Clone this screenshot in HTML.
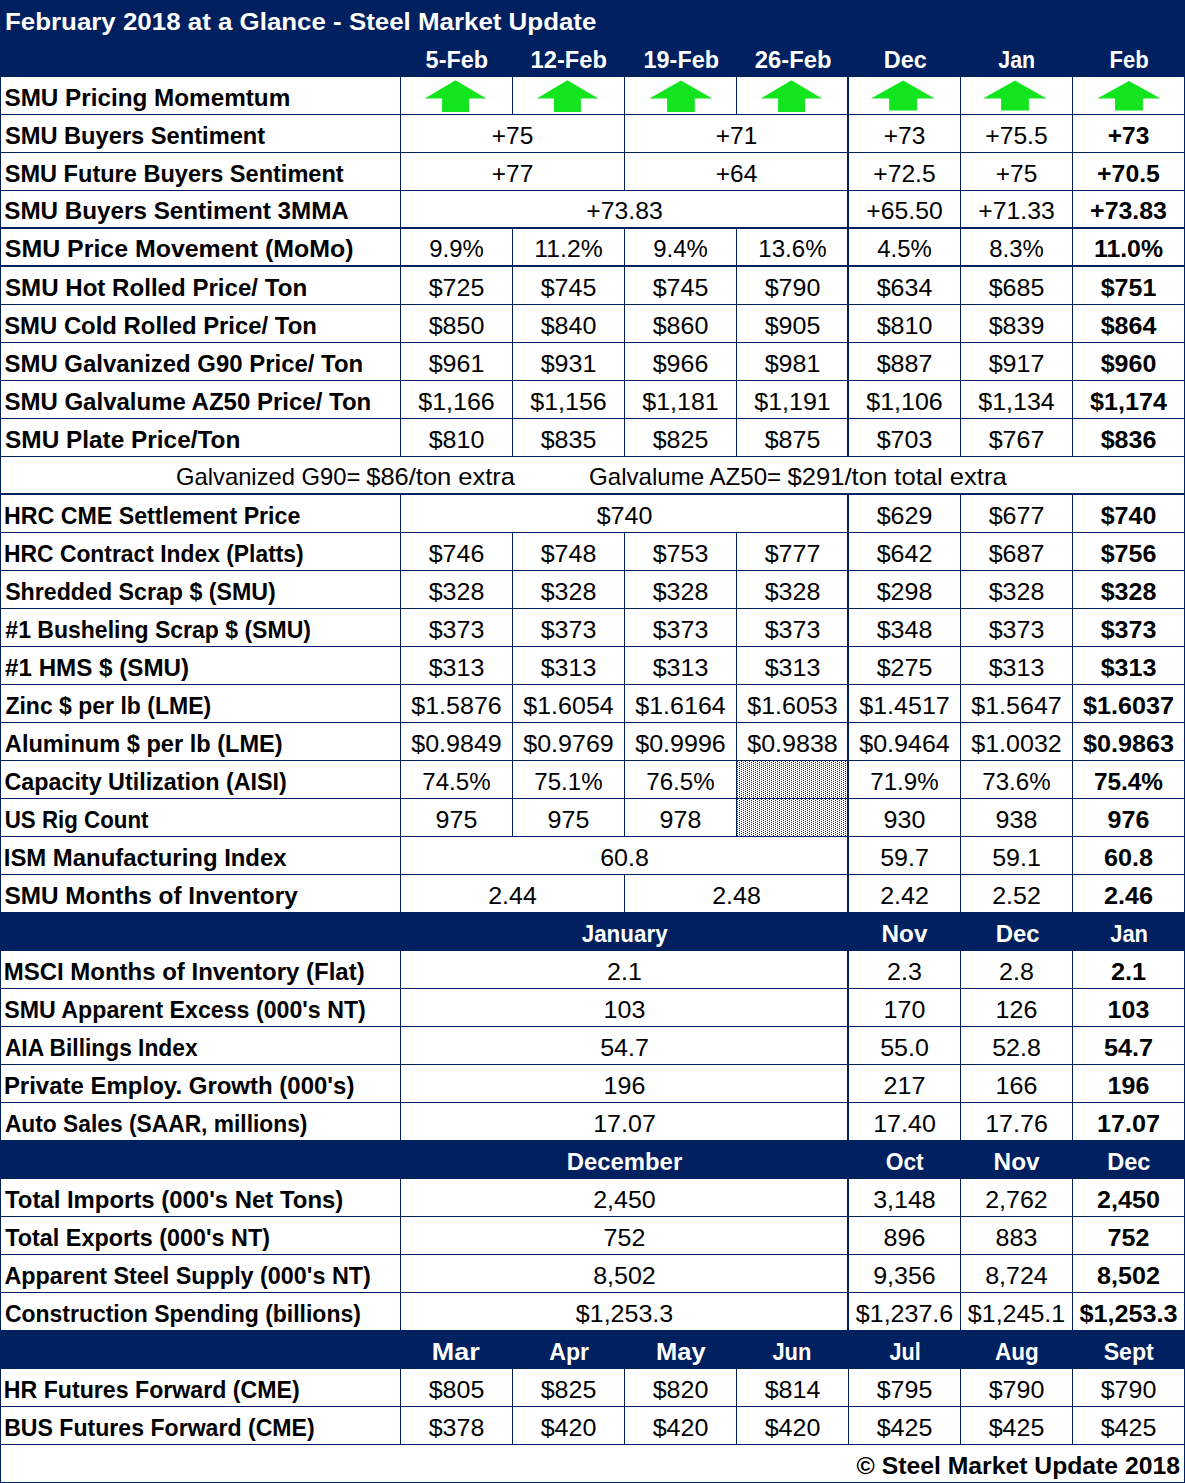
<!DOCTYPE html>
<html><head><meta charset="utf-8"><style>
html,body{margin:0;padding:0;background:#fff;}
body{width:1185px;height:1483px;overflow:hidden;}
svg{display:block;font-family:"Liberation Sans", sans-serif;font-size:24px;}
</style></head><body>
<svg width="1185" height="1483" viewBox="0 0 1185 1483">
<defs><pattern id="dots" x="0" y="0" width="4" height="2" patternUnits="userSpaceOnUse">
<rect x="3" y="0" width="1" height="1" fill="#002060"/><rect x="1" y="1" width="1" height="1" fill="#002060"/></pattern></defs>
<rect x="0" y="0" width="1185" height="1483" fill="#ffffff"/>
<rect x="0" y="0" width="1185" height="77" fill="#002060"/>
<rect x="0" y="912" width="1185" height="39" fill="#002060"/>
<rect x="0" y="1330" width="1185" height="39" fill="#002060"/>
<rect x="0" y="1140" width="1185" height="39" fill="#002060"/>
<rect x="737" y="761" width="110" height="75" fill="url(#dots)"/>
<rect x="0" y="114" width="1185" height="1" fill="#002060"/>
<rect x="0" y="152" width="1185" height="1" fill="#002060"/>
<rect x="0" y="190" width="1185" height="1" fill="#002060"/>
<rect x="0" y="228" width="1185" height="1" fill="#002060"/>
<rect x="0" y="266" width="1185" height="1" fill="#002060"/>
<rect x="0" y="304" width="1185" height="1" fill="#002060"/>
<rect x="0" y="342" width="1185" height="1" fill="#002060"/>
<rect x="0" y="380" width="1185" height="1" fill="#002060"/>
<rect x="0" y="418" width="1185" height="1" fill="#002060"/>
<rect x="0" y="456" width="1185" height="1" fill="#002060"/>
<rect x="0" y="494" width="1185" height="1" fill="#002060"/>
<rect x="0" y="532" width="1185" height="1" fill="#002060"/>
<rect x="0" y="570" width="1185" height="1" fill="#002060"/>
<rect x="0" y="608" width="1185" height="1" fill="#002060"/>
<rect x="0" y="646" width="1185" height="1" fill="#002060"/>
<rect x="0" y="684" width="1185" height="1" fill="#002060"/>
<rect x="0" y="722" width="1185" height="1" fill="#002060"/>
<rect x="0" y="760" width="1185" height="1" fill="#002060"/>
<rect x="0" y="798" width="1185" height="1" fill="#002060"/>
<rect x="0" y="836" width="1185" height="1" fill="#002060"/>
<rect x="0" y="874" width="1185" height="1" fill="#002060"/>
<rect x="0" y="912" width="1185" height="1" fill="#002060"/>
<rect x="0" y="950" width="1185" height="1" fill="#002060"/>
<rect x="0" y="988" width="1185" height="1" fill="#002060"/>
<rect x="0" y="1026" width="1185" height="1" fill="#002060"/>
<rect x="0" y="1064" width="1185" height="1" fill="#002060"/>
<rect x="0" y="1102" width="1185" height="1" fill="#002060"/>
<rect x="0" y="1140" width="1185" height="1" fill="#002060"/>
<rect x="0" y="1178" width="1185" height="1" fill="#002060"/>
<rect x="0" y="1216" width="1185" height="1" fill="#002060"/>
<rect x="0" y="1254" width="1185" height="1" fill="#002060"/>
<rect x="0" y="1292" width="1185" height="1" fill="#002060"/>
<rect x="0" y="1330" width="1185" height="1" fill="#002060"/>
<rect x="0" y="1368" width="1185" height="1" fill="#002060"/>
<rect x="0" y="1406" width="1185" height="1" fill="#002060"/>
<rect x="0" y="1444" width="1185" height="1" fill="#002060"/>
<rect x="0" y="227" width="1185" height="2" fill="#002060"/>
<rect x="0" y="265" width="1185" height="2" fill="#002060"/>
<rect x="0" y="493" width="1185" height="2" fill="#002060"/>
<rect x="0" y="76" width="1" height="1407" fill="#002060"/>
<rect x="1184" y="76" width="1" height="1407" fill="#002060"/>
<rect x="400" y="76" width="1" height="38" fill="#002060"/>
<rect x="512" y="76" width="1" height="38" fill="#002060"/>
<rect x="624" y="76" width="1" height="38" fill="#002060"/>
<rect x="736" y="76" width="1" height="38" fill="#002060"/>
<rect x="847" y="76" width="2" height="39" fill="#002060"/>
<rect x="960" y="76" width="1" height="38" fill="#002060"/>
<rect x="1072" y="76" width="1" height="38" fill="#002060"/>
<rect x="400" y="114" width="1" height="38" fill="#002060"/>
<rect x="624" y="114" width="1" height="38" fill="#002060"/>
<rect x="847" y="114" width="2" height="39" fill="#002060"/>
<rect x="960" y="114" width="1" height="38" fill="#002060"/>
<rect x="1072" y="114" width="1" height="38" fill="#002060"/>
<rect x="400" y="152" width="1" height="38" fill="#002060"/>
<rect x="624" y="152" width="1" height="38" fill="#002060"/>
<rect x="847" y="152" width="2" height="39" fill="#002060"/>
<rect x="960" y="152" width="1" height="38" fill="#002060"/>
<rect x="1072" y="152" width="1" height="38" fill="#002060"/>
<rect x="400" y="190" width="1" height="38" fill="#002060"/>
<rect x="847" y="190" width="2" height="39" fill="#002060"/>
<rect x="960" y="190" width="1" height="38" fill="#002060"/>
<rect x="1072" y="190" width="1" height="38" fill="#002060"/>
<rect x="400" y="228" width="1" height="38" fill="#002060"/>
<rect x="512" y="228" width="1" height="38" fill="#002060"/>
<rect x="624" y="228" width="1" height="38" fill="#002060"/>
<rect x="736" y="228" width="1" height="38" fill="#002060"/>
<rect x="847" y="228" width="2" height="39" fill="#002060"/>
<rect x="960" y="228" width="1" height="38" fill="#002060"/>
<rect x="1072" y="228" width="1" height="38" fill="#002060"/>
<rect x="400" y="266" width="1" height="38" fill="#002060"/>
<rect x="512" y="266" width="1" height="38" fill="#002060"/>
<rect x="624" y="266" width="1" height="38" fill="#002060"/>
<rect x="736" y="266" width="1" height="38" fill="#002060"/>
<rect x="847" y="266" width="2" height="39" fill="#002060"/>
<rect x="960" y="266" width="1" height="38" fill="#002060"/>
<rect x="1072" y="266" width="1" height="38" fill="#002060"/>
<rect x="400" y="304" width="1" height="38" fill="#002060"/>
<rect x="512" y="304" width="1" height="38" fill="#002060"/>
<rect x="624" y="304" width="1" height="38" fill="#002060"/>
<rect x="736" y="304" width="1" height="38" fill="#002060"/>
<rect x="847" y="304" width="2" height="39" fill="#002060"/>
<rect x="960" y="304" width="1" height="38" fill="#002060"/>
<rect x="1072" y="304" width="1" height="38" fill="#002060"/>
<rect x="400" y="342" width="1" height="38" fill="#002060"/>
<rect x="512" y="342" width="1" height="38" fill="#002060"/>
<rect x="624" y="342" width="1" height="38" fill="#002060"/>
<rect x="736" y="342" width="1" height="38" fill="#002060"/>
<rect x="847" y="342" width="2" height="39" fill="#002060"/>
<rect x="960" y="342" width="1" height="38" fill="#002060"/>
<rect x="1072" y="342" width="1" height="38" fill="#002060"/>
<rect x="400" y="380" width="1" height="38" fill="#002060"/>
<rect x="512" y="380" width="1" height="38" fill="#002060"/>
<rect x="624" y="380" width="1" height="38" fill="#002060"/>
<rect x="736" y="380" width="1" height="38" fill="#002060"/>
<rect x="847" y="380" width="2" height="39" fill="#002060"/>
<rect x="960" y="380" width="1" height="38" fill="#002060"/>
<rect x="1072" y="380" width="1" height="38" fill="#002060"/>
<rect x="400" y="418" width="1" height="38" fill="#002060"/>
<rect x="512" y="418" width="1" height="38" fill="#002060"/>
<rect x="624" y="418" width="1" height="38" fill="#002060"/>
<rect x="736" y="418" width="1" height="38" fill="#002060"/>
<rect x="847" y="418" width="2" height="39" fill="#002060"/>
<rect x="960" y="418" width="1" height="38" fill="#002060"/>
<rect x="1072" y="418" width="1" height="38" fill="#002060"/>
<rect x="400" y="494" width="1" height="38" fill="#002060"/>
<rect x="847" y="494" width="2" height="39" fill="#002060"/>
<rect x="960" y="494" width="1" height="38" fill="#002060"/>
<rect x="1072" y="494" width="1" height="38" fill="#002060"/>
<rect x="400" y="532" width="1" height="38" fill="#002060"/>
<rect x="512" y="532" width="1" height="38" fill="#002060"/>
<rect x="624" y="532" width="1" height="38" fill="#002060"/>
<rect x="736" y="532" width="1" height="38" fill="#002060"/>
<rect x="847" y="532" width="2" height="39" fill="#002060"/>
<rect x="960" y="532" width="1" height="38" fill="#002060"/>
<rect x="1072" y="532" width="1" height="38" fill="#002060"/>
<rect x="400" y="570" width="1" height="38" fill="#002060"/>
<rect x="512" y="570" width="1" height="38" fill="#002060"/>
<rect x="624" y="570" width="1" height="38" fill="#002060"/>
<rect x="736" y="570" width="1" height="38" fill="#002060"/>
<rect x="847" y="570" width="2" height="39" fill="#002060"/>
<rect x="960" y="570" width="1" height="38" fill="#002060"/>
<rect x="1072" y="570" width="1" height="38" fill="#002060"/>
<rect x="400" y="608" width="1" height="38" fill="#002060"/>
<rect x="512" y="608" width="1" height="38" fill="#002060"/>
<rect x="624" y="608" width="1" height="38" fill="#002060"/>
<rect x="736" y="608" width="1" height="38" fill="#002060"/>
<rect x="847" y="608" width="2" height="39" fill="#002060"/>
<rect x="960" y="608" width="1" height="38" fill="#002060"/>
<rect x="1072" y="608" width="1" height="38" fill="#002060"/>
<rect x="400" y="646" width="1" height="38" fill="#002060"/>
<rect x="512" y="646" width="1" height="38" fill="#002060"/>
<rect x="624" y="646" width="1" height="38" fill="#002060"/>
<rect x="736" y="646" width="1" height="38" fill="#002060"/>
<rect x="847" y="646" width="2" height="39" fill="#002060"/>
<rect x="960" y="646" width="1" height="38" fill="#002060"/>
<rect x="1072" y="646" width="1" height="38" fill="#002060"/>
<rect x="400" y="684" width="1" height="38" fill="#002060"/>
<rect x="512" y="684" width="1" height="38" fill="#002060"/>
<rect x="624" y="684" width="1" height="38" fill="#002060"/>
<rect x="736" y="684" width="1" height="38" fill="#002060"/>
<rect x="847" y="684" width="2" height="39" fill="#002060"/>
<rect x="960" y="684" width="1" height="38" fill="#002060"/>
<rect x="1072" y="684" width="1" height="38" fill="#002060"/>
<rect x="400" y="722" width="1" height="38" fill="#002060"/>
<rect x="512" y="722" width="1" height="38" fill="#002060"/>
<rect x="624" y="722" width="1" height="38" fill="#002060"/>
<rect x="736" y="722" width="1" height="38" fill="#002060"/>
<rect x="847" y="722" width="2" height="39" fill="#002060"/>
<rect x="960" y="722" width="1" height="38" fill="#002060"/>
<rect x="1072" y="722" width="1" height="38" fill="#002060"/>
<rect x="400" y="760" width="1" height="38" fill="#002060"/>
<rect x="512" y="760" width="1" height="38" fill="#002060"/>
<rect x="624" y="760" width="1" height="38" fill="#002060"/>
<rect x="736" y="760" width="1" height="38" fill="#002060"/>
<rect x="847" y="760" width="2" height="39" fill="#002060"/>
<rect x="960" y="760" width="1" height="38" fill="#002060"/>
<rect x="1072" y="760" width="1" height="38" fill="#002060"/>
<rect x="400" y="798" width="1" height="38" fill="#002060"/>
<rect x="512" y="798" width="1" height="38" fill="#002060"/>
<rect x="624" y="798" width="1" height="38" fill="#002060"/>
<rect x="736" y="798" width="1" height="38" fill="#002060"/>
<rect x="847" y="798" width="2" height="39" fill="#002060"/>
<rect x="960" y="798" width="1" height="38" fill="#002060"/>
<rect x="1072" y="798" width="1" height="38" fill="#002060"/>
<rect x="400" y="836" width="1" height="38" fill="#002060"/>
<rect x="847" y="836" width="2" height="39" fill="#002060"/>
<rect x="960" y="836" width="1" height="38" fill="#002060"/>
<rect x="1072" y="836" width="1" height="38" fill="#002060"/>
<rect x="400" y="874" width="1" height="38" fill="#002060"/>
<rect x="624" y="874" width="1" height="38" fill="#002060"/>
<rect x="847" y="874" width="2" height="39" fill="#002060"/>
<rect x="960" y="874" width="1" height="38" fill="#002060"/>
<rect x="1072" y="874" width="1" height="38" fill="#002060"/>
<rect x="400" y="950" width="1" height="38" fill="#002060"/>
<rect x="847" y="950" width="2" height="39" fill="#002060"/>
<rect x="960" y="950" width="1" height="38" fill="#002060"/>
<rect x="1072" y="950" width="1" height="38" fill="#002060"/>
<rect x="400" y="988" width="1" height="38" fill="#002060"/>
<rect x="847" y="988" width="2" height="39" fill="#002060"/>
<rect x="960" y="988" width="1" height="38" fill="#002060"/>
<rect x="1072" y="988" width="1" height="38" fill="#002060"/>
<rect x="400" y="1026" width="1" height="38" fill="#002060"/>
<rect x="847" y="1026" width="2" height="39" fill="#002060"/>
<rect x="960" y="1026" width="1" height="38" fill="#002060"/>
<rect x="1072" y="1026" width="1" height="38" fill="#002060"/>
<rect x="400" y="1064" width="1" height="38" fill="#002060"/>
<rect x="847" y="1064" width="2" height="39" fill="#002060"/>
<rect x="960" y="1064" width="1" height="38" fill="#002060"/>
<rect x="1072" y="1064" width="1" height="38" fill="#002060"/>
<rect x="400" y="1102" width="1" height="38" fill="#002060"/>
<rect x="847" y="1102" width="2" height="39" fill="#002060"/>
<rect x="960" y="1102" width="1" height="38" fill="#002060"/>
<rect x="1072" y="1102" width="1" height="38" fill="#002060"/>
<rect x="400" y="1178" width="1" height="38" fill="#002060"/>
<rect x="847" y="1178" width="2" height="39" fill="#002060"/>
<rect x="960" y="1178" width="1" height="38" fill="#002060"/>
<rect x="1072" y="1178" width="1" height="38" fill="#002060"/>
<rect x="400" y="1216" width="1" height="38" fill="#002060"/>
<rect x="847" y="1216" width="2" height="39" fill="#002060"/>
<rect x="960" y="1216" width="1" height="38" fill="#002060"/>
<rect x="1072" y="1216" width="1" height="38" fill="#002060"/>
<rect x="400" y="1254" width="1" height="38" fill="#002060"/>
<rect x="847" y="1254" width="2" height="39" fill="#002060"/>
<rect x="960" y="1254" width="1" height="38" fill="#002060"/>
<rect x="1072" y="1254" width="1" height="38" fill="#002060"/>
<rect x="400" y="1292" width="1" height="38" fill="#002060"/>
<rect x="847" y="1292" width="2" height="39" fill="#002060"/>
<rect x="960" y="1292" width="1" height="38" fill="#002060"/>
<rect x="1072" y="1292" width="1" height="38" fill="#002060"/>
<rect x="400" y="1368" width="1" height="38" fill="#002060"/>
<rect x="512" y="1368" width="1" height="38" fill="#002060"/>
<rect x="624" y="1368" width="1" height="38" fill="#002060"/>
<rect x="736" y="1368" width="1" height="38" fill="#002060"/>
<rect x="848" y="1368" width="1" height="38" fill="#002060"/>
<rect x="960" y="1368" width="1" height="38" fill="#002060"/>
<rect x="1072" y="1368" width="1" height="38" fill="#002060"/>
<rect x="400" y="1406" width="1" height="38" fill="#002060"/>
<rect x="512" y="1406" width="1" height="38" fill="#002060"/>
<rect x="624" y="1406" width="1" height="38" fill="#002060"/>
<rect x="736" y="1406" width="1" height="38" fill="#002060"/>
<rect x="848" y="1406" width="1" height="38" fill="#002060"/>
<rect x="960" y="1406" width="1" height="38" fill="#002060"/>
<rect x="1072" y="1406" width="1" height="38" fill="#002060"/>
<rect x="0" y="1482" width="1185" height="1" fill="#002060"/>
<text id="title" x="4.98" y="30" font-weight="bold" textLength="591.41" lengthAdjust="spacingAndGlyphs" fill="#fff">February 2018 at a Glance - Steel Market Update</text>
<text id="H1_0" x="425.62" y="68" font-weight="bold" textLength="62.48" lengthAdjust="spacingAndGlyphs" fill="#fff">5-Feb</text>
<text id="H1_1" x="530.60" y="68" font-weight="bold" textLength="76.35" lengthAdjust="spacingAndGlyphs" fill="#fff">12-Feb</text>
<text id="H1_2" x="643.56" y="68" font-weight="bold" textLength="75.52" lengthAdjust="spacingAndGlyphs" fill="#fff">19-Feb</text>
<text id="H1_3" x="754.83" y="68" font-weight="bold" textLength="76.76" lengthAdjust="spacingAndGlyphs" fill="#fff">26-Feb</text>
<text id="H1_4" x="883.76" y="68" font-weight="bold" textLength="43.01" lengthAdjust="spacingAndGlyphs" fill="#fff">Dec</text>
<text id="H1_5" x="998.35" y="68" font-weight="bold" textLength="36.83" lengthAdjust="spacingAndGlyphs" fill="#fff">Jan</text>
<text id="H1_6" x="1109.52" y="68" font-weight="bold" textLength="39.27" lengthAdjust="spacingAndGlyphs" fill="#fff">Feb</text>
<polygon points="455.5,80.2 486.3,98.6 469.0,98.6 469.0,111.9 442.1,111.9 442.1,98.6 424.7,98.6" fill="#12e51e"/>
<polygon points="567.4,80.2 598.3,98.6 580.9,98.6 580.9,111.9 554.0,111.9 554.0,98.6 536.7,98.6" fill="#12e51e"/>
<polygon points="681.0,80.6 712.3,98.6 694.8,98.6 694.8,111.9 667.1,111.9 667.1,98.6 649.4,98.6" fill="#12e51e"/>
<polygon points="791.5,80.2 822.0,98.6 805.0,98.6 805.0,111.9 778.1,111.9 778.1,98.6 760.7,98.6" fill="#12e51e"/>
<polygon points="903.1,80.6 934.7,98.4 917.0,98.4 917.0,110.6 889.2,110.6 889.2,98.4 871.0,98.4" fill="#12e51e"/>
<polygon points="1015.0,80.6 1046.7,98.4 1028.9,98.4 1028.9,110.6 1001.1,110.6 1001.1,98.4 983.1,98.4" fill="#12e51e"/>
<polygon points="1128.9,80.9 1160.6,98.4 1142.9,98.4 1142.9,110.6 1115.0,110.6 1115.0,98.4 1097.3,98.4" fill="#12e51e"/>
<text id="L2" x="4.47" y="106" font-weight="bold" textLength="285.74" lengthAdjust="spacingAndGlyphs" fill="#000">SMU Pricing Momemtum</text>
<text id="L3" x="4.92" y="144" font-weight="bold" textLength="260.26" lengthAdjust="spacingAndGlyphs" fill="#000">SMU Buyers Sentiment</text>
<text x="512.50" y="144" text-anchor="middle" textLength="41.53" lengthAdjust="spacingAndGlyphs" fill="#000">+75</text>
<text x="736.50" y="144" text-anchor="middle" textLength="41.53" lengthAdjust="spacingAndGlyphs" fill="#000">+71</text>
<text x="904.50" y="144" text-anchor="middle" textLength="41.53" lengthAdjust="spacingAndGlyphs" fill="#000">+73</text>
<text x="1016.50" y="144" text-anchor="middle" textLength="62.38" lengthAdjust="spacingAndGlyphs" fill="#000">+75.5</text>
<text x="1128.50" y="144" text-anchor="middle" font-weight="bold" textLength="41.53" lengthAdjust="spacingAndGlyphs" fill="#000">+73</text>
<text id="L4" x="4.72" y="182" font-weight="bold" textLength="338.96" lengthAdjust="spacingAndGlyphs" fill="#000">SMU Future Buyers Sentiment</text>
<text x="512.50" y="182" text-anchor="middle" textLength="41.53" lengthAdjust="spacingAndGlyphs" fill="#000">+77</text>
<text x="736.50" y="182" text-anchor="middle" textLength="41.53" lengthAdjust="spacingAndGlyphs" fill="#000">+64</text>
<text x="904.50" y="182" text-anchor="middle" textLength="62.38" lengthAdjust="spacingAndGlyphs" fill="#000">+72.5</text>
<text x="1016.50" y="182" text-anchor="middle" textLength="41.53" lengthAdjust="spacingAndGlyphs" fill="#000">+75</text>
<text x="1128.50" y="182" text-anchor="middle" font-weight="bold" textLength="62.80" lengthAdjust="spacingAndGlyphs" fill="#000">+70.5</text>
<text id="L5" x="4.22" y="219" font-weight="bold" textLength="344.62" lengthAdjust="spacingAndGlyphs" fill="#000">SMU Buyers Sentiment 3MMA</text>
<text x="624.50" y="219" text-anchor="middle" textLength="76.31" lengthAdjust="spacingAndGlyphs" fill="#000">+73.83</text>
<text x="904.50" y="219" text-anchor="middle" textLength="76.31" lengthAdjust="spacingAndGlyphs" fill="#000">+65.50</text>
<text x="1016.50" y="219" text-anchor="middle" textLength="76.31" lengthAdjust="spacingAndGlyphs" fill="#000">+71.33</text>
<text x="1128.50" y="219" text-anchor="middle" font-weight="bold" textLength="76.72" lengthAdjust="spacingAndGlyphs" fill="#000">+73.83</text>
<text id="L6" x="4.82" y="257" font-weight="bold" textLength="348.71" lengthAdjust="spacingAndGlyphs" fill="#000">SMU Price Movement (MoMo)</text>
<text x="456.50" y="257" text-anchor="middle" textLength="54.42" lengthAdjust="spacingAndGlyphs" fill="#000">9.9%</text>
<text x="568.50" y="257" text-anchor="middle" textLength="68.35" lengthAdjust="spacingAndGlyphs" fill="#000">11.2%</text>
<text x="680.50" y="257" text-anchor="middle" textLength="54.42" lengthAdjust="spacingAndGlyphs" fill="#000">9.4%</text>
<text x="792.50" y="257" text-anchor="middle" textLength="68.35" lengthAdjust="spacingAndGlyphs" fill="#000">13.6%</text>
<text x="904.50" y="257" text-anchor="middle" textLength="54.42" lengthAdjust="spacingAndGlyphs" fill="#000">4.5%</text>
<text x="1016.50" y="257" text-anchor="middle" textLength="54.42" lengthAdjust="spacingAndGlyphs" fill="#000">8.3%</text>
<text x="1128.50" y="257" text-anchor="middle" font-weight="bold" textLength="69.14" lengthAdjust="spacingAndGlyphs" fill="#000">11.0%</text>
<text id="L7" x="4.99" y="296" font-weight="bold" textLength="302.13" lengthAdjust="spacingAndGlyphs" fill="#000">SMU Hot Rolled Price/ Ton</text>
<text x="456.50" y="296" text-anchor="middle" textLength="55.71" lengthAdjust="spacingAndGlyphs" fill="#000">$725</text>
<text x="568.50" y="296" text-anchor="middle" textLength="55.71" lengthAdjust="spacingAndGlyphs" fill="#000">$745</text>
<text x="680.50" y="296" text-anchor="middle" textLength="55.71" lengthAdjust="spacingAndGlyphs" fill="#000">$745</text>
<text x="792.50" y="296" text-anchor="middle" textLength="55.71" lengthAdjust="spacingAndGlyphs" fill="#000">$790</text>
<text x="904.50" y="296" text-anchor="middle" textLength="55.71" lengthAdjust="spacingAndGlyphs" fill="#000">$634</text>
<text x="1016.50" y="296" text-anchor="middle" textLength="55.71" lengthAdjust="spacingAndGlyphs" fill="#000">$685</text>
<text x="1128.50" y="296" text-anchor="middle" font-weight="bold" textLength="55.71" lengthAdjust="spacingAndGlyphs" fill="#000">$751</text>
<text id="L8" x="4.19" y="334" font-weight="bold" textLength="312.62" lengthAdjust="spacingAndGlyphs" fill="#000">SMU Cold Rolled Price/ Ton</text>
<text x="456.50" y="334" text-anchor="middle" textLength="55.71" lengthAdjust="spacingAndGlyphs" fill="#000">$850</text>
<text x="568.50" y="334" text-anchor="middle" textLength="55.71" lengthAdjust="spacingAndGlyphs" fill="#000">$840</text>
<text x="680.50" y="334" text-anchor="middle" textLength="55.71" lengthAdjust="spacingAndGlyphs" fill="#000">$860</text>
<text x="792.50" y="334" text-anchor="middle" textLength="55.71" lengthAdjust="spacingAndGlyphs" fill="#000">$905</text>
<text x="904.50" y="334" text-anchor="middle" textLength="55.71" lengthAdjust="spacingAndGlyphs" fill="#000">$810</text>
<text x="1016.50" y="334" text-anchor="middle" textLength="55.71" lengthAdjust="spacingAndGlyphs" fill="#000">$839</text>
<text x="1128.50" y="334" text-anchor="middle" font-weight="bold" textLength="55.71" lengthAdjust="spacingAndGlyphs" fill="#000">$864</text>
<text id="L9" x="4.52" y="372" font-weight="bold" textLength="358.66" lengthAdjust="spacingAndGlyphs" fill="#000">SMU Galvanized G90 Price/ Ton</text>
<text x="456.50" y="372" text-anchor="middle" textLength="55.71" lengthAdjust="spacingAndGlyphs" fill="#000">$961</text>
<text x="568.50" y="372" text-anchor="middle" textLength="55.71" lengthAdjust="spacingAndGlyphs" fill="#000">$931</text>
<text x="680.50" y="372" text-anchor="middle" textLength="55.71" lengthAdjust="spacingAndGlyphs" fill="#000">$966</text>
<text x="792.50" y="372" text-anchor="middle" textLength="55.71" lengthAdjust="spacingAndGlyphs" fill="#000">$981</text>
<text x="904.50" y="372" text-anchor="middle" textLength="55.71" lengthAdjust="spacingAndGlyphs" fill="#000">$887</text>
<text x="1016.50" y="372" text-anchor="middle" textLength="55.71" lengthAdjust="spacingAndGlyphs" fill="#000">$917</text>
<text x="1128.50" y="372" text-anchor="middle" font-weight="bold" textLength="55.71" lengthAdjust="spacingAndGlyphs" fill="#000">$960</text>
<text id="L10" x="4.46" y="410" font-weight="bold" textLength="366.78" lengthAdjust="spacingAndGlyphs" fill="#000">SMU Galvalume AZ50 Price/ Ton</text>
<text x="456.50" y="410" text-anchor="middle" textLength="76.50" lengthAdjust="spacingAndGlyphs" fill="#000">$1,166</text>
<text x="568.50" y="410" text-anchor="middle" textLength="76.50" lengthAdjust="spacingAndGlyphs" fill="#000">$1,156</text>
<text x="680.50" y="410" text-anchor="middle" textLength="76.50" lengthAdjust="spacingAndGlyphs" fill="#000">$1,181</text>
<text x="792.50" y="410" text-anchor="middle" textLength="76.50" lengthAdjust="spacingAndGlyphs" fill="#000">$1,191</text>
<text x="904.50" y="410" text-anchor="middle" textLength="76.50" lengthAdjust="spacingAndGlyphs" fill="#000">$1,106</text>
<text x="1016.50" y="410" text-anchor="middle" textLength="76.50" lengthAdjust="spacingAndGlyphs" fill="#000">$1,134</text>
<text x="1128.50" y="410" text-anchor="middle" font-weight="bold" textLength="76.72" lengthAdjust="spacingAndGlyphs" fill="#000">$1,174</text>
<text id="L11" x="5.07" y="448" font-weight="bold" textLength="235.26" lengthAdjust="spacingAndGlyphs" fill="#000">SMU Plate Price/Ton</text>
<text x="456.50" y="448" text-anchor="middle" textLength="55.71" lengthAdjust="spacingAndGlyphs" fill="#000">$810</text>
<text x="568.50" y="448" text-anchor="middle" textLength="55.71" lengthAdjust="spacingAndGlyphs" fill="#000">$835</text>
<text x="680.50" y="448" text-anchor="middle" textLength="55.71" lengthAdjust="spacingAndGlyphs" fill="#000">$825</text>
<text x="792.50" y="448" text-anchor="middle" textLength="55.71" lengthAdjust="spacingAndGlyphs" fill="#000">$875</text>
<text x="904.50" y="448" text-anchor="middle" textLength="55.71" lengthAdjust="spacingAndGlyphs" fill="#000">$703</text>
<text x="1016.50" y="448" text-anchor="middle" textLength="55.71" lengthAdjust="spacingAndGlyphs" fill="#000">$767</text>
<text x="1128.50" y="448" text-anchor="middle" font-weight="bold" textLength="55.71" lengthAdjust="spacingAndGlyphs" fill="#000">$836</text>
<text id="L13" x="4.11" y="524" font-weight="bold" textLength="296.24" lengthAdjust="spacingAndGlyphs" fill="#000">HRC CME Settlement Price</text>
<text x="624.50" y="524" text-anchor="middle" textLength="55.71" lengthAdjust="spacingAndGlyphs" fill="#000">$740</text>
<text x="904.50" y="524" text-anchor="middle" textLength="55.71" lengthAdjust="spacingAndGlyphs" fill="#000">$629</text>
<text x="1016.50" y="524" text-anchor="middle" textLength="55.71" lengthAdjust="spacingAndGlyphs" fill="#000">$677</text>
<text x="1128.50" y="524" text-anchor="middle" font-weight="bold" textLength="55.71" lengthAdjust="spacingAndGlyphs" fill="#000">$740</text>
<text id="L14" x="4.05" y="562" font-weight="bold" textLength="299.65" lengthAdjust="spacingAndGlyphs" fill="#000">HRC Contract Index (Platts)</text>
<text x="456.50" y="562" text-anchor="middle" textLength="55.71" lengthAdjust="spacingAndGlyphs" fill="#000">$746</text>
<text x="568.50" y="562" text-anchor="middle" textLength="55.71" lengthAdjust="spacingAndGlyphs" fill="#000">$748</text>
<text x="680.50" y="562" text-anchor="middle" textLength="55.71" lengthAdjust="spacingAndGlyphs" fill="#000">$753</text>
<text x="792.50" y="562" text-anchor="middle" textLength="55.71" lengthAdjust="spacingAndGlyphs" fill="#000">$777</text>
<text x="904.50" y="562" text-anchor="middle" textLength="55.71" lengthAdjust="spacingAndGlyphs" fill="#000">$642</text>
<text x="1016.50" y="562" text-anchor="middle" textLength="55.71" lengthAdjust="spacingAndGlyphs" fill="#000">$687</text>
<text x="1128.50" y="562" text-anchor="middle" font-weight="bold" textLength="55.71" lengthAdjust="spacingAndGlyphs" fill="#000">$756</text>
<text id="L15" x="5.16" y="600" font-weight="bold" textLength="270.57" lengthAdjust="spacingAndGlyphs" fill="#000">Shredded Scrap $ (SMU)</text>
<text x="456.50" y="600" text-anchor="middle" textLength="55.71" lengthAdjust="spacingAndGlyphs" fill="#000">$328</text>
<text x="568.50" y="600" text-anchor="middle" textLength="55.71" lengthAdjust="spacingAndGlyphs" fill="#000">$328</text>
<text x="680.50" y="600" text-anchor="middle" textLength="55.71" lengthAdjust="spacingAndGlyphs" fill="#000">$328</text>
<text x="792.50" y="600" text-anchor="middle" textLength="55.71" lengthAdjust="spacingAndGlyphs" fill="#000">$328</text>
<text x="904.50" y="600" text-anchor="middle" textLength="55.71" lengthAdjust="spacingAndGlyphs" fill="#000">$298</text>
<text x="1016.50" y="600" text-anchor="middle" textLength="55.71" lengthAdjust="spacingAndGlyphs" fill="#000">$328</text>
<text x="1128.50" y="600" text-anchor="middle" font-weight="bold" textLength="55.71" lengthAdjust="spacingAndGlyphs" fill="#000">$328</text>
<text id="L16" x="5.35" y="638" font-weight="bold" textLength="305.58" lengthAdjust="spacingAndGlyphs" fill="#000">#1 Busheling Scrap $ (SMU)</text>
<text x="456.50" y="638" text-anchor="middle" textLength="55.71" lengthAdjust="spacingAndGlyphs" fill="#000">$373</text>
<text x="568.50" y="638" text-anchor="middle" textLength="55.71" lengthAdjust="spacingAndGlyphs" fill="#000">$373</text>
<text x="680.50" y="638" text-anchor="middle" textLength="55.71" lengthAdjust="spacingAndGlyphs" fill="#000">$373</text>
<text x="792.50" y="638" text-anchor="middle" textLength="55.71" lengthAdjust="spacingAndGlyphs" fill="#000">$373</text>
<text x="904.50" y="638" text-anchor="middle" textLength="55.71" lengthAdjust="spacingAndGlyphs" fill="#000">$348</text>
<text x="1016.50" y="638" text-anchor="middle" textLength="55.71" lengthAdjust="spacingAndGlyphs" fill="#000">$373</text>
<text x="1128.50" y="638" text-anchor="middle" font-weight="bold" textLength="55.71" lengthAdjust="spacingAndGlyphs" fill="#000">$373</text>
<text id="L17" x="5.08" y="676" font-weight="bold" textLength="183.93" lengthAdjust="spacingAndGlyphs" fill="#000">#1 HMS $ (SMU)</text>
<text x="456.50" y="676" text-anchor="middle" textLength="55.71" lengthAdjust="spacingAndGlyphs" fill="#000">$313</text>
<text x="568.50" y="676" text-anchor="middle" textLength="55.71" lengthAdjust="spacingAndGlyphs" fill="#000">$313</text>
<text x="680.50" y="676" text-anchor="middle" textLength="55.71" lengthAdjust="spacingAndGlyphs" fill="#000">$313</text>
<text x="792.50" y="676" text-anchor="middle" textLength="55.71" lengthAdjust="spacingAndGlyphs" fill="#000">$313</text>
<text x="904.50" y="676" text-anchor="middle" textLength="55.71" lengthAdjust="spacingAndGlyphs" fill="#000">$275</text>
<text x="1016.50" y="676" text-anchor="middle" textLength="55.71" lengthAdjust="spacingAndGlyphs" fill="#000">$313</text>
<text x="1128.50" y="676" text-anchor="middle" font-weight="bold" textLength="55.71" lengthAdjust="spacingAndGlyphs" fill="#000">$313</text>
<text id="L18" x="5.40" y="714" font-weight="bold" textLength="205.77" lengthAdjust="spacingAndGlyphs" fill="#000">Zinc $ per lb (LME)</text>
<text x="456.50" y="714" text-anchor="middle" textLength="90.49" lengthAdjust="spacingAndGlyphs" fill="#000">$1.5876</text>
<text x="568.50" y="714" text-anchor="middle" textLength="90.49" lengthAdjust="spacingAndGlyphs" fill="#000">$1.6054</text>
<text x="680.50" y="714" text-anchor="middle" textLength="90.49" lengthAdjust="spacingAndGlyphs" fill="#000">$1.6164</text>
<text x="792.50" y="714" text-anchor="middle" textLength="90.49" lengthAdjust="spacingAndGlyphs" fill="#000">$1.6053</text>
<text x="904.50" y="714" text-anchor="middle" textLength="90.49" lengthAdjust="spacingAndGlyphs" fill="#000">$1.4517</text>
<text x="1016.50" y="714" text-anchor="middle" textLength="90.49" lengthAdjust="spacingAndGlyphs" fill="#000">$1.5647</text>
<text x="1128.50" y="714" text-anchor="middle" font-weight="bold" textLength="90.90" lengthAdjust="spacingAndGlyphs" fill="#000">$1.6037</text>
<text id="L19" x="4.87" y="752" font-weight="bold" textLength="277.84" lengthAdjust="spacingAndGlyphs" fill="#000">Aluminum $ per lb (LME)</text>
<text x="456.50" y="752" text-anchor="middle" textLength="90.49" lengthAdjust="spacingAndGlyphs" fill="#000">$0.9849</text>
<text x="568.50" y="752" text-anchor="middle" textLength="90.49" lengthAdjust="spacingAndGlyphs" fill="#000">$0.9769</text>
<text x="680.50" y="752" text-anchor="middle" textLength="90.49" lengthAdjust="spacingAndGlyphs" fill="#000">$0.9996</text>
<text x="792.50" y="752" text-anchor="middle" textLength="90.49" lengthAdjust="spacingAndGlyphs" fill="#000">$0.9838</text>
<text x="904.50" y="752" text-anchor="middle" textLength="90.49" lengthAdjust="spacingAndGlyphs" fill="#000">$0.9464</text>
<text x="1016.50" y="752" text-anchor="middle" textLength="90.49" lengthAdjust="spacingAndGlyphs" fill="#000">$1.0032</text>
<text x="1128.50" y="752" text-anchor="middle" font-weight="bold" textLength="90.90" lengthAdjust="spacingAndGlyphs" fill="#000">$0.9863</text>
<text id="L20" x="4.42" y="790" font-weight="bold" textLength="282.41" lengthAdjust="spacingAndGlyphs" fill="#000">Capacity Utilization (AISI)</text>
<text x="456.50" y="790" text-anchor="middle" textLength="68.35" lengthAdjust="spacingAndGlyphs" fill="#000">74.5%</text>
<text x="568.50" y="790" text-anchor="middle" textLength="68.35" lengthAdjust="spacingAndGlyphs" fill="#000">75.1%</text>
<text x="680.50" y="790" text-anchor="middle" textLength="68.35" lengthAdjust="spacingAndGlyphs" fill="#000">76.5%</text>
<text x="904.50" y="790" text-anchor="middle" textLength="68.35" lengthAdjust="spacingAndGlyphs" fill="#000">71.9%</text>
<text x="1016.50" y="790" text-anchor="middle" textLength="68.35" lengthAdjust="spacingAndGlyphs" fill="#000">73.6%</text>
<text x="1128.50" y="790" text-anchor="middle" font-weight="bold" textLength="69.14" lengthAdjust="spacingAndGlyphs" fill="#000">75.4%</text>
<text id="L21" x="4.76" y="828" font-weight="bold" textLength="143.68" lengthAdjust="spacingAndGlyphs" fill="#000">US Rig Count</text>
<text x="456.50" y="828" text-anchor="middle" textLength="41.78" lengthAdjust="spacingAndGlyphs" fill="#000">975</text>
<text x="568.50" y="828" text-anchor="middle" textLength="41.78" lengthAdjust="spacingAndGlyphs" fill="#000">975</text>
<text x="680.50" y="828" text-anchor="middle" textLength="41.78" lengthAdjust="spacingAndGlyphs" fill="#000">978</text>
<text x="904.50" y="828" text-anchor="middle" textLength="41.78" lengthAdjust="spacingAndGlyphs" fill="#000">930</text>
<text x="1016.50" y="828" text-anchor="middle" textLength="41.78" lengthAdjust="spacingAndGlyphs" fill="#000">938</text>
<text x="1128.50" y="828" text-anchor="middle" font-weight="bold" textLength="41.78" lengthAdjust="spacingAndGlyphs" fill="#000">976</text>
<text id="L22" x="3.75" y="866" font-weight="bold" textLength="282.80" lengthAdjust="spacingAndGlyphs" fill="#000">ISM Manufacturing Index</text>
<text x="624.50" y="866" text-anchor="middle" textLength="48.70" lengthAdjust="spacingAndGlyphs" fill="#000">60.8</text>
<text x="904.50" y="866" text-anchor="middle" textLength="48.70" lengthAdjust="spacingAndGlyphs" fill="#000">59.7</text>
<text x="1016.50" y="866" text-anchor="middle" textLength="48.70" lengthAdjust="spacingAndGlyphs" fill="#000">59.1</text>
<text x="1128.50" y="866" text-anchor="middle" font-weight="bold" textLength="49.12" lengthAdjust="spacingAndGlyphs" fill="#000">60.8</text>
<text id="L23" x="4.57" y="904" font-weight="bold" textLength="293.14" lengthAdjust="spacingAndGlyphs" fill="#000">SMU Months of Inventory</text>
<text x="512.50" y="904" text-anchor="middle" textLength="48.70" lengthAdjust="spacingAndGlyphs" fill="#000">2.44</text>
<text x="736.50" y="904" text-anchor="middle" textLength="48.70" lengthAdjust="spacingAndGlyphs" fill="#000">2.48</text>
<text x="904.50" y="904" text-anchor="middle" textLength="48.70" lengthAdjust="spacingAndGlyphs" fill="#000">2.42</text>
<text x="1016.50" y="904" text-anchor="middle" textLength="48.70" lengthAdjust="spacingAndGlyphs" fill="#000">2.52</text>
<text x="1128.50" y="904" text-anchor="middle" font-weight="bold" textLength="49.12" lengthAdjust="spacingAndGlyphs" fill="#000">2.46</text>
<text id="H24_0" x="581.73" y="942" font-weight="bold" textLength="85.88" lengthAdjust="spacingAndGlyphs" fill="#fff">January</text>
<text id="H24_1" x="881.62" y="942" font-weight="bold" textLength="45.77" lengthAdjust="spacingAndGlyphs" fill="#fff">Nov</text>
<text id="H24_2" x="995.64" y="942" font-weight="bold" textLength="43.84" lengthAdjust="spacingAndGlyphs" fill="#fff">Dec</text>
<text id="H24_3" x="1110.22" y="942" font-weight="bold" textLength="37.77" lengthAdjust="spacingAndGlyphs" fill="#fff">Jan</text>
<text id="L25" x="3.72" y="980" font-weight="bold" textLength="360.92" lengthAdjust="spacingAndGlyphs" fill="#000">MSCI Months of Inventory (Flat)</text>
<text x="624.50" y="980" text-anchor="middle" textLength="34.78" lengthAdjust="spacingAndGlyphs" fill="#000">2.1</text>
<text x="904.50" y="980" text-anchor="middle" textLength="34.78" lengthAdjust="spacingAndGlyphs" fill="#000">2.3</text>
<text x="1016.50" y="980" text-anchor="middle" textLength="34.78" lengthAdjust="spacingAndGlyphs" fill="#000">2.8</text>
<text x="1128.50" y="980" text-anchor="middle" font-weight="bold" textLength="35.19" lengthAdjust="spacingAndGlyphs" fill="#000">2.1</text>
<text id="L26" x="4.28" y="1018" font-weight="bold" textLength="361.55" lengthAdjust="spacingAndGlyphs" fill="#000">SMU Apparent Excess (000's NT)</text>
<text x="624.50" y="1018" text-anchor="middle" textLength="41.78" lengthAdjust="spacingAndGlyphs" fill="#000">103</text>
<text x="904.50" y="1018" text-anchor="middle" textLength="41.78" lengthAdjust="spacingAndGlyphs" fill="#000">170</text>
<text x="1016.50" y="1018" text-anchor="middle" textLength="41.78" lengthAdjust="spacingAndGlyphs" fill="#000">126</text>
<text x="1128.50" y="1018" text-anchor="middle" font-weight="bold" textLength="41.78" lengthAdjust="spacingAndGlyphs" fill="#000">103</text>
<text id="L27" x="4.93" y="1056" font-weight="bold" textLength="192.64" lengthAdjust="spacingAndGlyphs" fill="#000">AIA Billings Index</text>
<text x="624.50" y="1056" text-anchor="middle" textLength="48.70" lengthAdjust="spacingAndGlyphs" fill="#000">54.7</text>
<text x="904.50" y="1056" text-anchor="middle" textLength="48.70" lengthAdjust="spacingAndGlyphs" fill="#000">55.0</text>
<text x="1016.50" y="1056" text-anchor="middle" textLength="48.70" lengthAdjust="spacingAndGlyphs" fill="#000">52.8</text>
<text x="1128.50" y="1056" text-anchor="middle" font-weight="bold" textLength="49.12" lengthAdjust="spacingAndGlyphs" fill="#000">54.7</text>
<text id="L28" x="3.88" y="1094" font-weight="bold" textLength="350.50" lengthAdjust="spacingAndGlyphs" fill="#000">Private Employ. Growth (000's)</text>
<text x="624.50" y="1094" text-anchor="middle" textLength="41.78" lengthAdjust="spacingAndGlyphs" fill="#000">196</text>
<text x="904.50" y="1094" text-anchor="middle" textLength="41.78" lengthAdjust="spacingAndGlyphs" fill="#000">217</text>
<text x="1016.50" y="1094" text-anchor="middle" textLength="41.78" lengthAdjust="spacingAndGlyphs" fill="#000">166</text>
<text x="1128.50" y="1094" text-anchor="middle" font-weight="bold" textLength="41.78" lengthAdjust="spacingAndGlyphs" fill="#000">196</text>
<text id="L29" x="4.93" y="1132" font-weight="bold" textLength="302.46" lengthAdjust="spacingAndGlyphs" fill="#000">Auto Sales (SAAR, millions)</text>
<text x="624.50" y="1132" text-anchor="middle" textLength="62.63" lengthAdjust="spacingAndGlyphs" fill="#000">17.07</text>
<text x="904.50" y="1132" text-anchor="middle" textLength="62.63" lengthAdjust="spacingAndGlyphs" fill="#000">17.40</text>
<text x="1016.50" y="1132" text-anchor="middle" textLength="62.63" lengthAdjust="spacingAndGlyphs" fill="#000">17.76</text>
<text x="1128.50" y="1132" text-anchor="middle" font-weight="bold" textLength="63.04" lengthAdjust="spacingAndGlyphs" fill="#000">17.07</text>
<text id="H30_0" x="566.73" y="1170" font-weight="bold" textLength="115.46" lengthAdjust="spacingAndGlyphs" fill="#fff">December</text>
<text id="H30_1" x="885.73" y="1170" font-weight="bold" textLength="37.99" lengthAdjust="spacingAndGlyphs" fill="#fff">Oct</text>
<text id="H30_2" x="993.61" y="1170" font-weight="bold" textLength="45.97" lengthAdjust="spacingAndGlyphs" fill="#fff">Nov</text>
<text id="H30_3" x="1107.20" y="1170" font-weight="bold" textLength="43.20" lengthAdjust="spacingAndGlyphs" fill="#fff">Dec</text>
<text id="L31" x="4.98" y="1208" font-weight="bold" textLength="338.32" lengthAdjust="spacingAndGlyphs" fill="#000">Total Imports (000's Net Tons)</text>
<text x="624.50" y="1208" text-anchor="middle" textLength="62.58" lengthAdjust="spacingAndGlyphs" fill="#000">2,450</text>
<text x="904.50" y="1208" text-anchor="middle" textLength="62.58" lengthAdjust="spacingAndGlyphs" fill="#000">3,148</text>
<text x="1016.50" y="1208" text-anchor="middle" textLength="62.58" lengthAdjust="spacingAndGlyphs" fill="#000">2,762</text>
<text x="1128.50" y="1208" text-anchor="middle" font-weight="bold" textLength="62.80" lengthAdjust="spacingAndGlyphs" fill="#000">2,450</text>
<text id="L32" x="5.27" y="1246" font-weight="bold" textLength="264.74" lengthAdjust="spacingAndGlyphs" fill="#000">Total Exports (000's NT)</text>
<text x="624.50" y="1246" text-anchor="middle" textLength="41.78" lengthAdjust="spacingAndGlyphs" fill="#000">752</text>
<text x="904.50" y="1246" text-anchor="middle" textLength="41.78" lengthAdjust="spacingAndGlyphs" fill="#000">896</text>
<text x="1016.50" y="1246" text-anchor="middle" textLength="41.78" lengthAdjust="spacingAndGlyphs" fill="#000">883</text>
<text x="1128.50" y="1246" text-anchor="middle" font-weight="bold" textLength="41.78" lengthAdjust="spacingAndGlyphs" fill="#000">752</text>
<text id="L33" x="4.43" y="1284" font-weight="bold" textLength="366.37" lengthAdjust="spacingAndGlyphs" fill="#000">Apparent Steel Supply (000's NT)</text>
<text x="624.50" y="1284" text-anchor="middle" textLength="62.58" lengthAdjust="spacingAndGlyphs" fill="#000">8,502</text>
<text x="904.50" y="1284" text-anchor="middle" textLength="62.58" lengthAdjust="spacingAndGlyphs" fill="#000">9,356</text>
<text x="1016.50" y="1284" text-anchor="middle" textLength="62.58" lengthAdjust="spacingAndGlyphs" fill="#000">8,724</text>
<text x="1128.50" y="1284" text-anchor="middle" font-weight="bold" textLength="62.80" lengthAdjust="spacingAndGlyphs" fill="#000">8,502</text>
<text id="L34" x="4.89" y="1322" font-weight="bold" textLength="355.96" lengthAdjust="spacingAndGlyphs" fill="#000">Construction Spending (billions)</text>
<text x="624.50" y="1322" text-anchor="middle" textLength="97.35" lengthAdjust="spacingAndGlyphs" fill="#000">$1,253.3</text>
<text x="904.50" y="1322" text-anchor="middle" textLength="97.35" lengthAdjust="spacingAndGlyphs" fill="#000">$1,237.6</text>
<text x="1016.50" y="1322" text-anchor="middle" textLength="97.35" lengthAdjust="spacingAndGlyphs" fill="#000">$1,245.1</text>
<text x="1128.50" y="1322" text-anchor="middle" font-weight="bold" textLength="97.99" lengthAdjust="spacingAndGlyphs" fill="#000">$1,253.3</text>
<text id="H35_0" x="431.78" y="1360" font-weight="bold" textLength="47.92" lengthAdjust="spacingAndGlyphs" fill="#fff">Mar</text>
<text id="H35_1" x="549.29" y="1360" font-weight="bold" textLength="39.75" lengthAdjust="spacingAndGlyphs" fill="#fff">Apr</text>
<text id="H35_2" x="656.08" y="1360" font-weight="bold" textLength="49.60" lengthAdjust="spacingAndGlyphs" fill="#fff">May</text>
<text id="H35_3" x="772.42" y="1360" font-weight="bold" textLength="38.95" lengthAdjust="spacingAndGlyphs" fill="#fff">Jun</text>
<text id="H35_4" x="889.53" y="1360" font-weight="bold" textLength="31.13" lengthAdjust="spacingAndGlyphs" fill="#fff">Jul</text>
<text id="H35_5" x="995.00" y="1360" font-weight="bold" textLength="43.78" lengthAdjust="spacingAndGlyphs" fill="#fff">Aug</text>
<text id="H35_6" x="1103.64" y="1360" font-weight="bold" textLength="50.21" lengthAdjust="spacingAndGlyphs" fill="#fff">Sept</text>
<text id="L36" x="3.80" y="1398" font-weight="bold" textLength="295.92" lengthAdjust="spacingAndGlyphs" fill="#000">HR Futures Forward (CME)</text>
<text x="456.50" y="1398" text-anchor="middle" textLength="55.71" lengthAdjust="spacingAndGlyphs" fill="#000">$805</text>
<text x="568.50" y="1398" text-anchor="middle" textLength="55.71" lengthAdjust="spacingAndGlyphs" fill="#000">$825</text>
<text x="680.50" y="1398" text-anchor="middle" textLength="55.71" lengthAdjust="spacingAndGlyphs" fill="#000">$820</text>
<text x="792.50" y="1398" text-anchor="middle" textLength="55.71" lengthAdjust="spacingAndGlyphs" fill="#000">$814</text>
<text x="904.50" y="1398" text-anchor="middle" textLength="55.71" lengthAdjust="spacingAndGlyphs" fill="#000">$795</text>
<text x="1016.50" y="1398" text-anchor="middle" textLength="55.71" lengthAdjust="spacingAndGlyphs" fill="#000">$790</text>
<text x="1128.50" y="1398" text-anchor="middle" textLength="55.71" lengthAdjust="spacingAndGlyphs" fill="#000">$790</text>
<text id="L37" x="4.15" y="1436" font-weight="bold" textLength="310.52" lengthAdjust="spacingAndGlyphs" fill="#000">BUS Futures Forward (CME)</text>
<text x="456.50" y="1436" text-anchor="middle" textLength="55.71" lengthAdjust="spacingAndGlyphs" fill="#000">$378</text>
<text x="568.50" y="1436" text-anchor="middle" textLength="55.71" lengthAdjust="spacingAndGlyphs" fill="#000">$420</text>
<text x="680.50" y="1436" text-anchor="middle" textLength="55.71" lengthAdjust="spacingAndGlyphs" fill="#000">$420</text>
<text x="792.50" y="1436" text-anchor="middle" textLength="55.71" lengthAdjust="spacingAndGlyphs" fill="#000">$420</text>
<text x="904.50" y="1436" text-anchor="middle" textLength="55.71" lengthAdjust="spacingAndGlyphs" fill="#000">$425</text>
<text x="1016.50" y="1436" text-anchor="middle" textLength="55.71" lengthAdjust="spacingAndGlyphs" fill="#000">$425</text>
<text x="1128.50" y="1436" text-anchor="middle" textLength="55.71" lengthAdjust="spacingAndGlyphs" fill="#000">$425</text>
<text id="N1a" x="176.06" y="485" textLength="184.31" lengthAdjust="spacingAndGlyphs" fill="#000">Galvanized G90=</text>
<text id="N1b" x="366.23" y="485" textLength="148.77" lengthAdjust="spacingAndGlyphs" fill="#000">$86/ton extra</text>
<text id="N2a" x="589.03" y="485" textLength="192.15" lengthAdjust="spacingAndGlyphs" fill="#000">Galvalume AZ50=</text>
<text id="N2b" x="787.45" y="485" textLength="219.32" lengthAdjust="spacingAndGlyphs" fill="#000">$291/ton total extra</text>
<text id="copy" x="856.59" y="1474" font-weight="bold" textLength="323.45" lengthAdjust="spacingAndGlyphs" fill="#000">© Steel Market Update 2018</text>
</svg>
</body></html>
